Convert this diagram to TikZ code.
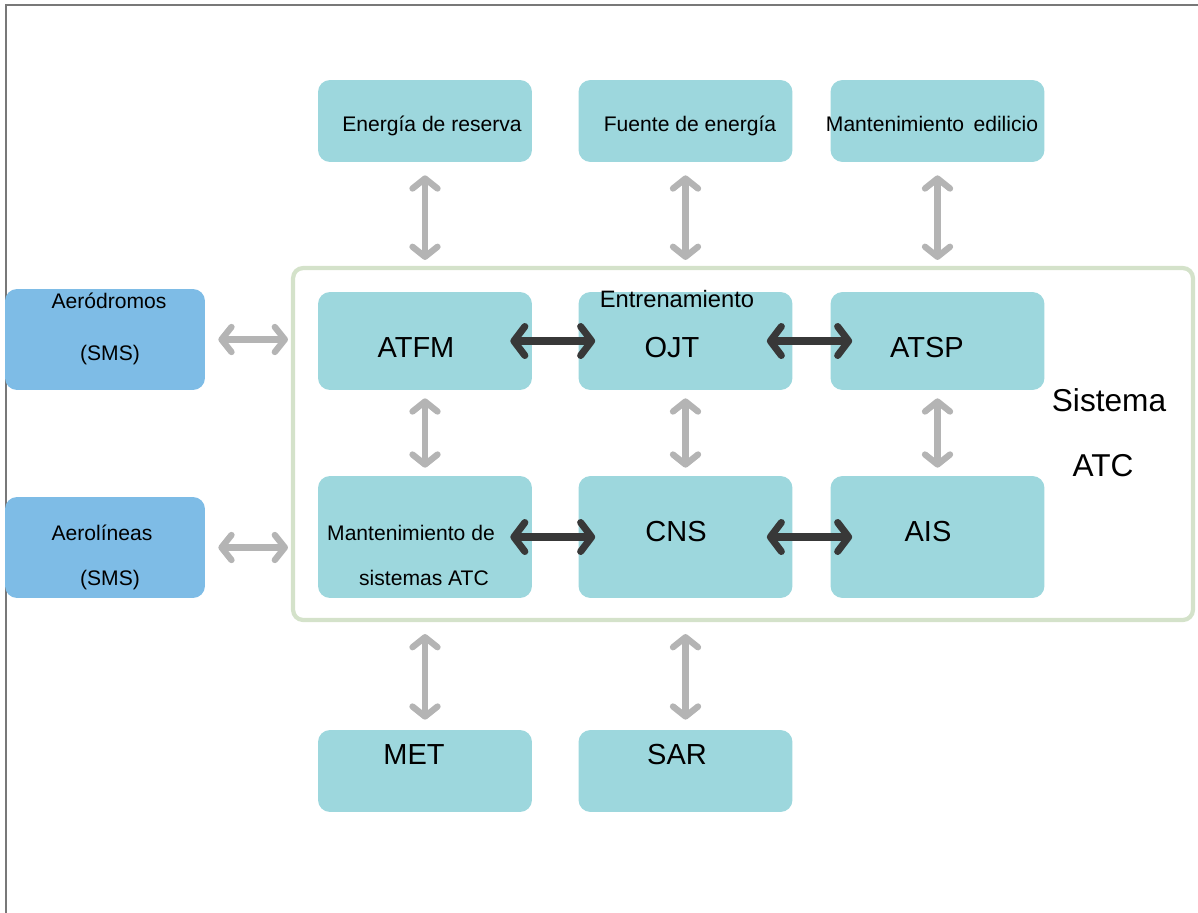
\documentclass[tikz,border=0pt]{standalone}
\usepackage{fontspec}
\setmainfont{Liberation Sans}
\usetikzlibrary{arrows.meta}

\definecolor{boxteal}{RGB}{157,215,221}
\definecolor{boxblue}{RGB}{126,188,230}
\definecolor{atcframe}{RGB}{212,226,202}
\definecolor{arrowgrey}{RGB}{180,180,180}
\definecolor{arrowdark}{RGB}{56,56,56}
\definecolor{pageline}{RGB}{120,120,120}

\tikzset{
	tbox/.style={fill=boxteal, rounded corners=0.24cm, minimum width=4.28cm, minimum height=1.64cm, inner sep=0pt},
	bbox/.style={fill=boxblue, rounded corners=0.24cm, minimum width=4cm, minimum height=2.02cm, inner sep=0pt},
	garrow/.style={arrowgrey, line width=3.6pt, {Straight Barb[length=0.2cm,width=0.5cm,round]}-{Straight Barb[length=0.2cm,width=0.5cm,round]}},
	darrow/.style={arrowdark, line width=4pt, {Straight Barb[length=0.22cm,width=0.58cm,round]}-{Straight Barb[length=0.22cm,width=0.58cm,round]}},
	stxt/.style={font=\fontsize{12}{14}\selectfont, inner sep=0pt, anchor=base},
	btxt/.style={font=\fontsize{16.5}{19}\selectfont, inner sep=0pt, anchor=base}
}

\begin{document}
\begin{tikzpicture}[x=0.02cm, y=-0.02cm]

	\useasboundingbox (0,0) rectangle (1198,913);
	\draw[pageline, line width=1.1pt] (6,913) -- (6,5) -- (1198,5);

	\node[draw=atcframe, line width=2.4pt, rounded corners=0.2cm, minimum width=18cm, minimum height=7.04cm] (atc) at (743,444) {};

	\node[tbox] (energia) at (425,121) {};
	\node[tbox] (fuente) at (685.5,121) {};
	\node[tbox] (edilicio) at (937.5,121) {};

	\node[tbox, minimum height=1.96cm] (atfm) at (425,341) {};
	\node[tbox, minimum height=1.96cm] (ojt) at (685.5,341) {};
	\node[tbox, minimum height=1.96cm] (atsp) at (937.5,341) {};

	\node[tbox, minimum height=2.44cm] (mant) at (425,537) {};
	\node[tbox, minimum height=2.44cm] (cns) at (685.5,537) {};
	\node[tbox, minimum height=2.44cm] (ais) at (937.5,537) {};

	\node[tbox] (met) at (425,771) {};
	\node[tbox] (sar) at (685.5,771) {};

	\node[bbox] (aerod) at (105,339.5) {};
	\node[bbox] (aerol) at (105,547.5) {};

	\node[stxt] (tenergia) at (432,131) {Energía de reserva};
	\node[stxt] (tfuente) at (690,131) {Fuente de energía};
	\node[stxt] (tedilicio) at (932,131) {Mantenimiento\, edilicio};

	\node[btxt] (tatfm) at (416,357) {ATFM};
	\node[stxt, font=\fontsize{13.5}{16}\selectfont] (tentr) at (677,307) {Entrenamiento};
	\node[btxt] (tojt) at (672,357) {OJT};
	\node[btxt] (tatsp) at (927,357) {ATSP};

	\node[stxt] (tmant1) at (411,540) {Mantenimiento de};
	\node[stxt] (tmant2) at (424,585) {sistemas ATC};
	\node[btxt] (tcns) at (676,541) {CNS};
	\node[btxt] (tais) at (928,541) {AIS};

	\node[btxt] (tmet) at (414,764) {MET};
	\node[btxt] (tsar) at (677,764) {SAR};

	\node[stxt] (taerod1) at (109,308) {Aeródromos};
	\node[stxt] (taerod2) at (110,360) {(SMS)};
	\node[stxt] (taerol1) at (102,540) {Aerolíneas};
	\node[stxt] (taerol2) at (110,585) {(SMS)};

	\node[btxt, font=\fontsize{18}{21}\selectfont] (tsis1) at (1109,411) {Sistema};
	\node[btxt, font=\fontsize{18}{21}\selectfont] (tsis2) at (1103,476) {ATC};

	\draw[garrow, shorten <=0.26cm, shorten >=0.12cm] (energia.south) -- (energia.south |- atc.north);
	\draw[garrow, shorten <=0.26cm, shorten >=0.12cm] (fuente.south) -- (fuente.south |- atc.north);
	\draw[garrow, shorten <=0.26cm, shorten >=0.12cm] (edilicio.south) -- (edilicio.south |- atc.north);

	\draw[garrow, shorten <=0.16cm, shorten >=0.16cm] (atfm.south) -- (mant.north);
	\draw[garrow, shorten <=0.16cm, shorten >=0.16cm] (ojt.south) -- (cns.north);
	\draw[garrow, shorten <=0.16cm, shorten >=0.16cm] (atsp.south) -- (ais.north);

	\draw[garrow, shorten <=0.24cm, shorten >=0.2cm] (met.north |- atc.south) -- (met.north);
	\draw[garrow, shorten <=0.24cm, shorten >=0.2cm] (sar.north |- atc.south) -- (sar.north);

	\draw[garrow, shorten <=0.26cm, shorten >=0.06cm] (aerod.east) -- (aerod.east -| atc.west);
	\draw[garrow, shorten <=0.26cm, shorten >=0.06cm] (aerol.east) -- (aerol.east -| atc.west);

	\draw[darrow] ([xshift=-0.44cm]atfm.east) -- ([xshift=0.34cm]ojt.west);
	\draw[darrow] ([xshift=-0.52cm]ojt.east) -- ([xshift=0.44cm]atsp.west);
	\draw[darrow] ([xshift=-0.44cm]mant.east) -- ([xshift=0.34cm]cns.west);
	\draw[darrow] ([xshift=-0.52cm]cns.east) -- ([xshift=0.44cm]ais.west);

\end{tikzpicture}
\end{document}
